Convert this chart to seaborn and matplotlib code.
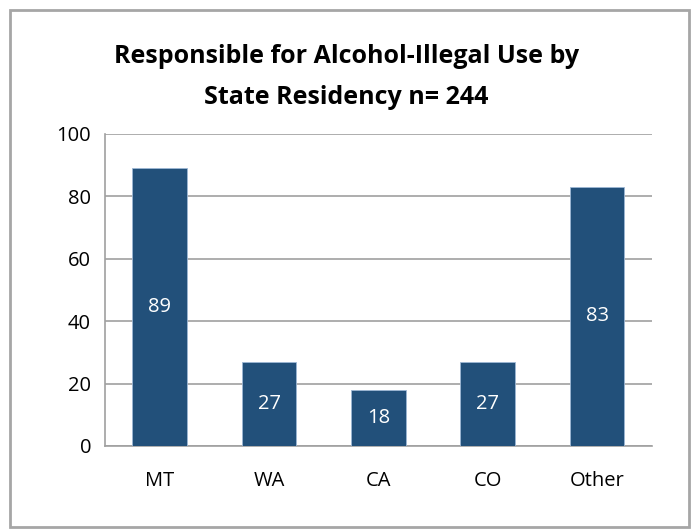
import matplotlib
matplotlib.use("Agg")
import matplotlib.pyplot as plt
import seaborn as sns
import pandas as pd
from matplotlib.patches import Rectangle

# data
states = ["MT", "WA", "CA", "CO", "Other"]
counts = [89, 27, 18, 27, 83]

sns.set_style("white")
plt.rcParams["font.family"] = ["Open Sans", "DejaVu Sans"]

df = pd.DataFrame({"State": states, "Count": counts})

fig = plt.figure(figsize=(6.93, 5.29), dpi=100)
ax = fig.add_axes([0.1515, 0.157, 0.789, 0.590])

sns.barplot(data=df, x="State", y="Count", color="#22507A", width=0.5,
            edgecolor="#9DB7D5", linewidth=0.6, saturation=1, ax=ax, zorder=3)

ax.set_ylim(0, 100)
ax.set_xlim(-0.5, 4.5)
ax.set_yticks(range(0, 101, 20))
ax.yaxis.grid(True, color="#A0A0A0", linewidth=1.2, zorder=0)
ax.set_xlabel("")
ax.set_ylabel("")

for s in ["top", "right"]:
    ax.spines[s].set_visible(False)
for s in ["left", "bottom"]:
    ax.spines[s].set_color("#A0A0A0")
    ax.spines[s].set_linewidth(1.2)

# category boundary ticks on x
ax.set_xticks([-0.5 + i for i in range(6)], minor=True)
ax.tick_params(axis="x", which="major", length=0, labelsize=14.5, pad=18, labelcolor="black")
ax.tick_params(axis="x", which="minor", length=7, color="#A0A0A0", width=1.2)
ax.tick_params(axis="y", length=6, color="#A0A0A0", width=1.2, labelsize=14.5, pad=4,
               labelcolor="black")

for i, v in enumerate(counts):
    ax.text(i, v / 2, str(v), ha="center", va="center", color="white", fontsize=14.5)

fig.text(0.5, 0.893, "Responsible for Alcohol-Illegal Use by", ha="center", va="center",
         fontsize=18, fontweight="bold", color="black")
fig.text(0.5, 0.815, "State Residency n= 244", ha="center", va="center",
         fontsize=18, fontweight="bold", color="black")

fig.patches.append(Rectangle((0.0145, 0.004), 0.98, 0.977, transform=fig.transFigure,
                             fill=False, edgecolor="#A6A6A6", linewidth=2))

fig.savefig("out.png", dpi=100)
